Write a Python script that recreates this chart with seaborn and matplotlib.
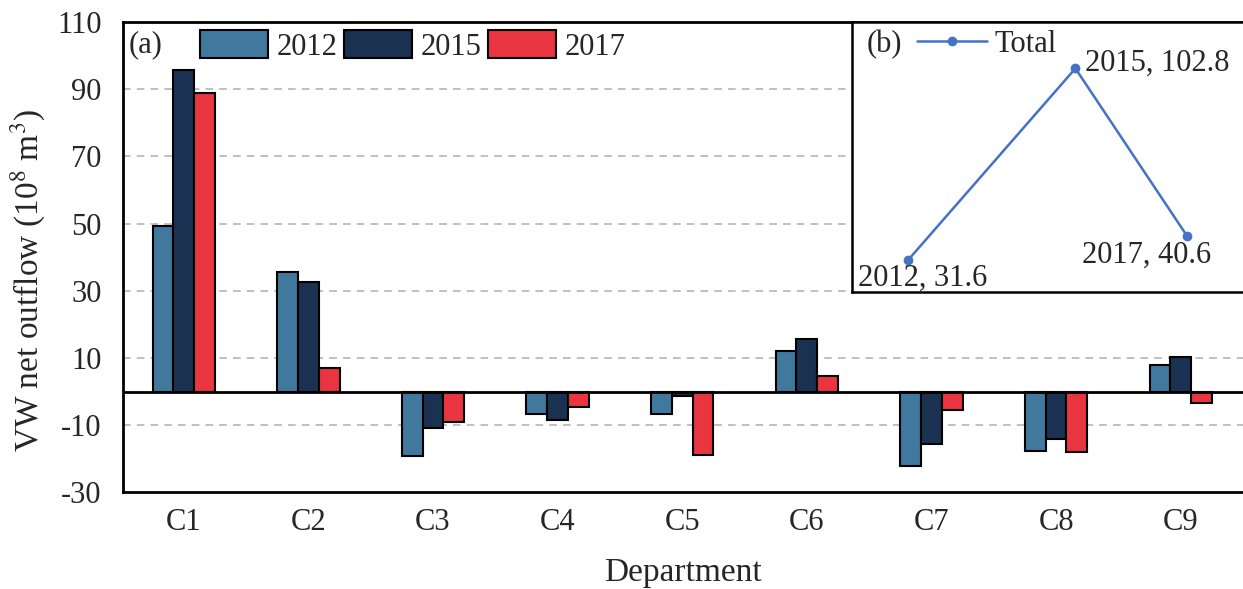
import matplotlib
matplotlib.use("Agg")
import matplotlib.pyplot as plt
import seaborn as sns
import pandas as pd
from matplotlib.patches import Patch
from matplotlib.lines import Line2D

# Net virtual-water outflow by department and year (10^8 m^3)
departments = ["C1", "C2", "C3", "C4", "C5", "C6", "C7", "C8", "C9"]
years = ["2012", "2015", "2017"]
vals_2012 = [49.4, 35.5, -19.1, -6.8, -6.8, 12.1, -22.2, -17.6, 7.9]
vals_2015 = [95.8, 32.7, -11.0, -8.4, -1.4, 15.6, -15.7, -14.1, 10.3]
vals_2017 = [89.0, 7.1, -9.0, -4.7, -18.8, 4.5, -5.5, -18.1, -3.3]

# Totals for inset (b)
total_years = [2012, 2015, 2017]
total_vals = [31.6, 102.8, 40.6]

yticks = [110, 90, 70, 50, 30, 10, -10, -30]

colors = {"2012": "#41789d", "2015": "#1b3151", "2017": "#e8353f"}
line_color = "#4472c4"

rows = []
for y, series in zip(years, [vals_2012, vals_2015, vals_2017]):
    for d, v in zip(departments, series):
        rows.append({"Department": d, "Year": y, "value": v})
df = pd.DataFrame(rows)
df_tot = pd.DataFrame({"Year": total_years, "Total": total_vals})

sns.set_theme(style="white")
plt.rcParams["font.family"] = ["Liberation Serif", "DejaVu Serif"]
plt.rcParams["mathtext.fontset"] = "stix"
plt.rcParams["axes.unicode_minus"] = False

FS = 22

fig = plt.figure(figsize=(12.43, 5.89), dpi=100)
ax = fig.add_axes([0.0987, 0.1642, 0.9013, 0.7984])

sns.barplot(data=df, x="Department", y="value", hue="Year", hue_order=years,
            palette=colors, saturation=1, edgecolor="black", linewidth=1.5,
            width=0.5, gap=0, errorbar=None, legend=False, ax=ax, zorder=3)

ax.set_xlim(-0.49, 8.5)
ax.set_ylim(-30, 110)
ax.set_yticks(yticks)
for t in [90, 70, 50, 30, 10, -10]:
    ax.axhline(t, color="#b0b0a8", lw=1.1, ls=(0, (5, 4)), zorder=1)
ax.axhline(0, color="black", lw=2.0, zorder=4)

ax.tick_params(axis="y", length=0, labelsize=FS, pad=15)
ax.tick_params(axis="x", length=0, labelsize=FS, pad=11)
ax.set_xlabel("Department", fontsize=24)
ax.set_ylabel("VW net outflow (10$^{8}$ m$^{3}$)", fontsize=24)
ax.xaxis.set_label_coords(0.5, -0.138)
ax.yaxis.set_label_coords(-0.067, 0.451)
for side in ["left", "bottom", "top"]:
    ax.spines[side].set_color("black")
    ax.spines[side].set_linewidth(2.0)
ax.spines["right"].set_visible(False)

ax.text(0.0056, 0.952, "(a)", transform=ax.transAxes, fontsize=FS,
        va="center", ha="left")
handles = [Patch(facecolor=colors[y], edgecolor="black", linewidth=1.5) for y in years]
ax.legend(handles, years, loc="upper left", bbox_to_anchor=(0.069, 0.982),
          ncol=3, frameon=False, fontsize=FS, handlelength=2.22, handleheight=1.0,
          handletextpad=0.3, columnspacing=0.2, borderaxespad=0, borderpad=0)

# Inset (b): total net outflow
ax2 = fig.add_axes([0.6854, 0.5048, 0.3146, 0.4578])
ax2.set_facecolor("white")
sns.lineplot(data=df_tot, x="Year", y="Total", color=line_color, lw=1.8,
             marker="o", markersize=7, markeredgewidth=0, ax=ax2, zorder=3)
ax2.set_xlim(2011, 2018)
ax2.set_ylim(20, 120)
ax2.set_xticks([])
ax2.set_yticks([])
ax2.set_xlabel("")
ax2.set_ylabel("")
for side in ["left", "bottom", "top"]:
    ax2.spines[side].set_color("black")
    ax2.spines[side].set_linewidth(1.8)
ax2.spines["right"].set_visible(False)

offsets = {2012: (-0.89, -6.5), 2015: (0.17, 1.8), 2017: (-1.88, -7.0)}
for yr, v in zip(total_years, total_vals):
    dx, dy = offsets[yr]
    ax2.text(yr + dx, v + dy, f"{yr}, {v}", fontsize=FS, ha="left", va="center")

ax2.text(0.038, 0.918, "(b)", transform=ax2.transAxes, fontsize=FS,
         va="center", ha="left")
ax2.legend([Line2D([0], [0], color=line_color, lw=1.8, marker="o", markersize=7,
                   markeredgewidth=0)], ["Total"],
           loc="upper left", bbox_to_anchor=(0.166, 0.97), frameon=False,
           fontsize=FS, handlelength=2.3, handletextpad=0.23,
           borderaxespad=0, borderpad=0)

fig.savefig("out.png", dpi=100)
